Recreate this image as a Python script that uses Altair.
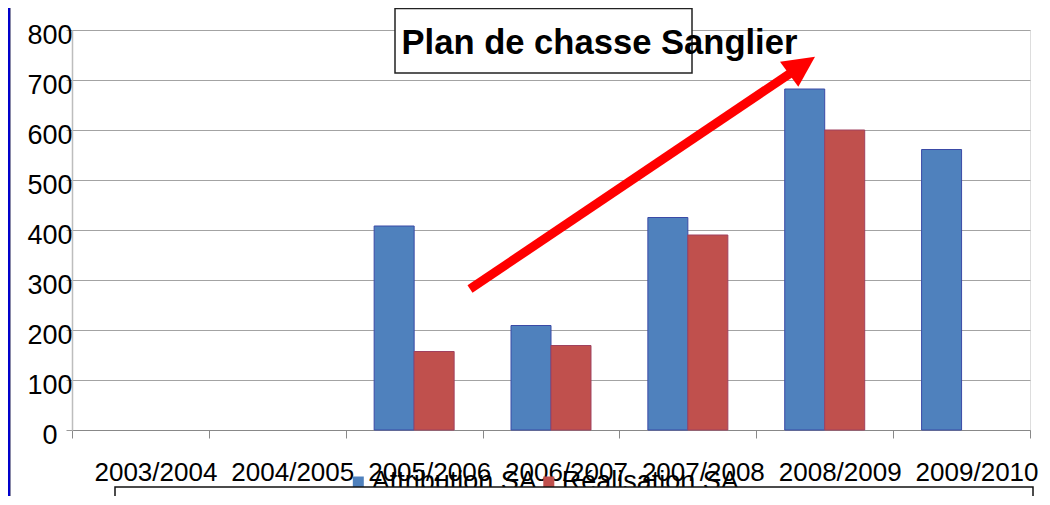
import altair as alt
import pandas as pd

# ---- data ----
CATEGORIES = ["2003/2004", "2004/2005", "2005/2006", "2006/2007",
              "2007/2008", "2008/2009", "2009/2010"]
SERIES = ["Attribution SA", "Réalisation SA"]
ATTRIBUTION = [None, None, 408, 209, 425, 682, 561]
REALISATION = [None, None, 157, 169, 390, 600, None]
Y_TICKS = [0, 100, 200, 300, 400, 500, 600, 700, 800]
TITLE = "Plan de chasse Sanglier"

FILL = ["#4F81BD", "#C0504D"]
STROKE = ["#3A4AA6", "#A0415E"]
FONT = "Liberation Sans"

rows = []
for cat, a, r in zip(CATEGORIES, ATTRIBUTION, REALISATION):
    if a is not None:
        rows.append({"saison": cat, "serie": SERIES[0], "valeur": a})
    if r is not None:
        rows.append({"saison": cat, "serie": SERIES[1], "valeur": r})
df = pd.DataFrame(rows)

one = alt.Data(values=[{}])

bars = alt.Chart(df).mark_bar(strokeWidth=1).encode(
    x=alt.X("saison:N",
            scale=alt.Scale(domain=CATEGORIES, paddingInner=0, paddingOuter=0),
            axis=alt.Axis(title=None, labelAngle=0, labelFontSize=26, labelFont=FONT,
                          labelColor="black", tickBand="extent", tickSize=8,
                          tickColor="#888888", domainColor="#888888", domainWidth=1.2,
                          labelOffset=15, labelBaseline="alphabetic", labelPadding=42,
                          labelOverlap=False, labelBound=False, grid=False)),
    xOffset=alt.XOffset("serie:N",
                        scale=alt.Scale(domain=SERIES, paddingInner=0, paddingOuter=0.711)),
    y=alt.Y("valeur:Q",
            scale=alt.Scale(domain=[0, 800], nice=False),
            axis=alt.Axis(title=None, values=Y_TICKS, grid=True, gridColor="#a3a3a3",
                          gridWidth=1.2, domainColor="#bdbdbd", domainWidth=1.5,
                          tickColor="#999999", tickSize=6, labelFontSize=27,
                          labelFont=FONT, labelColor="black", labelAlign="center",
                          labelPadding=16.5, labelBaseline="alphabetic",
                          labelOffset=13, labelOverlap=False, labelBound=False)),
    color=alt.Color("serie:N", scale=alt.Scale(domain=SERIES, range=FILL), legend=None),
    stroke=alt.Stroke("serie:N", scale=alt.Scale(domain=SERIES, range=STROKE), legend=None),
)

# left edge of the slide frame
frame = alt.Chart(one).mark_rect(color="#0000CC").encode(
    x=alt.value(-64), x2=alt.value(-62), y=alt.value(-22), y2=alt.value(470))
frame_edge = alt.Chart(one).mark_rule(color="#8a8aa8", strokeWidth=1).encode(
    x=alt.value(-61.5), y=alt.value(-22), y2=alt.value(470))

title_box = alt.Chart(one).mark_rect(fill="white", stroke="#222222", strokeWidth=1.5).encode(
    x=alt.value(323), x2=alt.value(620), y=alt.value(-21.5), y2=alt.value(43))
title_text = alt.Chart(one).mark_text(
    text=TITLE, align="left", baseline="alphabetic", font=FONT, fontSize=34.6,
    fontWeight="bold", color="black").encode(x=alt.value(329.5), y=alt.value(23.5))

arrow_line = alt.Chart(one).mark_rule(color="#FF0000", strokeWidth=9).encode(
    x=alt.value(398), y=alt.value(259), x2=alt.value(721), y2=alt.value(41.5))
arrow_head = alt.Chart(one).mark_point(
    shape="M0,0 L-35,5 L-16.7,30 Z", size=4, filled=True, color="#FF0000",
    opacity=1, strokeWidth=0).encode(x=alt.value(743), y=alt.value(26.7))

legend_layers = []
sq_x = [286.3, 476.8]
tx_x = [299.7, 489.7]
for name, col, sx, tx in zip(SERIES, FILL, sq_x, tx_x):
    legend_layers.append(alt.Chart(one).mark_square(
        size=121, color=col, opacity=1).encode(x=alt.value(sx), y=alt.value(452)))
    legend_layers.append(alt.Chart(one).mark_text(
        text=name, align="left", baseline="alphabetic", font=FONT, fontSize=27,
        color="black").encode(x=alt.value(tx), y=alt.value(460)))

bottom_box = alt.Chart(one).mark_rect(fill="white", stroke="#111111", strokeWidth=1.5).encode(
    x=alt.value(43), x2=alt.value(961), y=alt.value(457), y2=alt.value(500))

chart = alt.layer(
    frame, frame_edge, bars, title_box, title_text, arrow_line, arrow_head,
    *legend_layers, bottom_box
).properties(
    width=958, height=400,
    autosize=alt.AutoSizeParams(type="none"),
    padding={"left": 64, "top": 22, "right": 12, "bottom": 66},
    background="white",
).configure_view(strokeWidth=0).configure(font=FONT)

chart.save("out.html", embed_options={"renderer": "svg", "actions": False})
